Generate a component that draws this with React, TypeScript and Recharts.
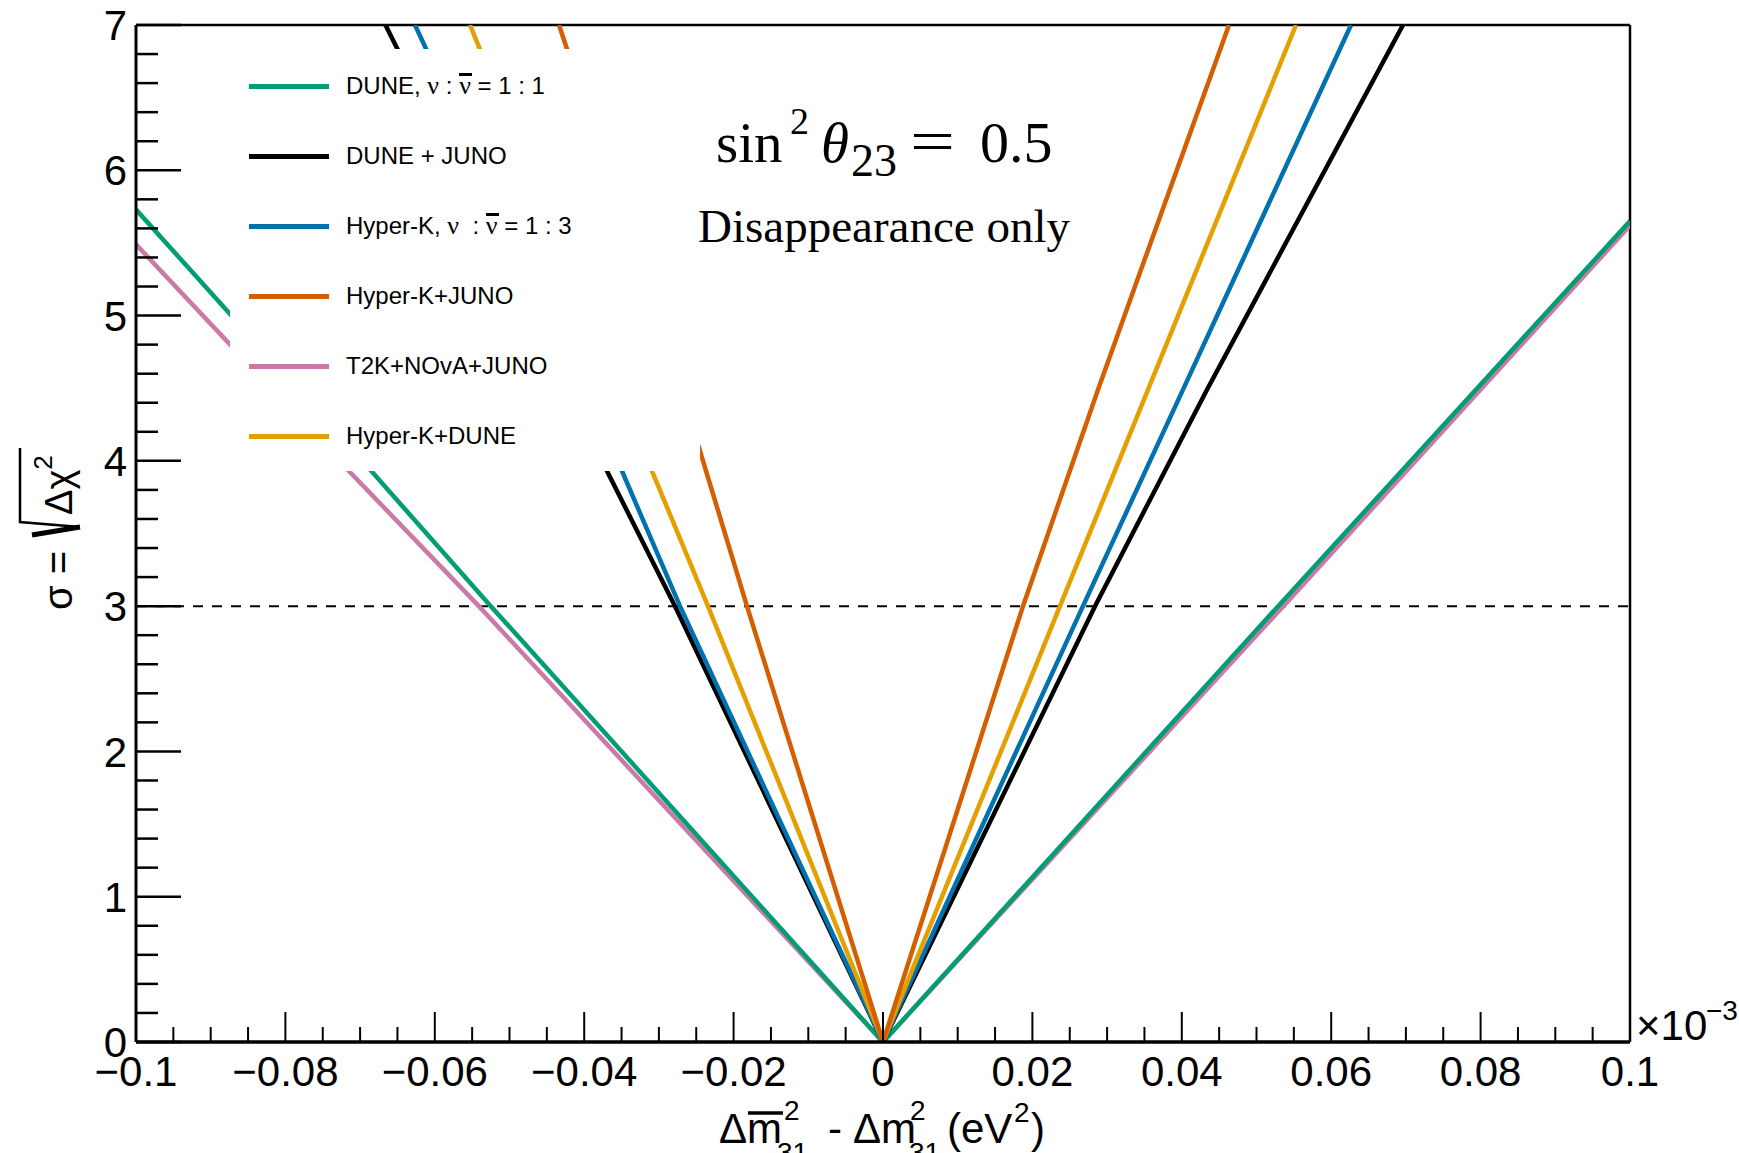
import React from 'react';
import { LineChart, Line, XAxis, YAxis, ReferenceLine } from 'recharts';

type Pt = { x: number; y: number };

// sigma = sqrt(delta chi^2) versus the mass-splitting difference (units of 1e-3 eV^2)
const duneNuNubar11: Pt[] = [
  { x: -0.1, y: 5.73 }, { x: -0.0685, y: 3.93 }, { x: -0.0525, y: 3 }, { x: 0, y: 0 },
  { x: 0.0529, y: 3 }, { x: 0.1, y: 5.65 },
];
const duneJuno: Pt[] = [
  { x: -0.0666, y: 7 }, { x: -0.03695, y: 3.93 }, { x: -0.02784, y: 3 }, { x: 0, y: 0 },
  { x: 0.02838, y: 3 }, { x: 0.04337, y: 4.49 }, { x: 0.05194, y: 5.31 }, { x: 0.06961, y: 7 },
];
const hyperKNuNubar13: Pt[] = [
  { x: -0.06265, y: 7 }, { x: -0.03494, y: 3.93 }, { x: -0.02718, y: 3 }, { x: 0, y: 0 },
  { x: 0.02677, y: 3 }, { x: 0.04016, y: 4.49 }, { x: 0.04751, y: 5.31 }, { x: 0.06265, y: 7 },
];
const hyperKJuno: Pt[] = [
  { x: -0.04337, y: 7 }, { x: -0.02463, y: 4.09 }, { x: -0.01821, y: 3 }, { x: 0, y: 0 },
  { x: 0.01874, y: 3 }, { x: 0.02878, y: 4.49 }, { x: 0.0345, y: 5.31 }, { x: 0.04632, y: 7 },
];
const t2kNovaJuno: Pt[] = [
  { x: -0.1, y: 5.49 }, { x: -0.0715, y: 3.93 }, { x: -0.0541, y: 3 }, { x: 0, y: 0 },
  { x: 0.0536, y: 3 }, { x: 0.1, y: 5.62 },
];
const hyperKDune: Pt[] = [
  { x: -0.05529, y: 7 }, { x: -0.03092, y: 3.93 }, { x: -0.02343, y: 3 }, { x: 0, y: 0 },
  { x: 0.02369, y: 3 }, { x: 0.03548, y: 4.49 }, { x: 0.04195, y: 5.31 }, { x: 0.05529, y: 7 },
];

const legendOrder = [
  { label: 'DUNE, ν : ν̄ = 1 : 1', color: '#009E73', data: duneNuNubar11 },
  { label: 'DUNE + JUNO', color: '#000000', data: duneJuno },
  { label: 'Hyper-K, ν  : ν̄ = 1 : 3', color: '#0072B2', data: hyperKNuNubar13 },
  { label: 'Hyper-K+JUNO', color: '#D55E00', data: hyperKJuno },
  { label: 'T2K+NOvA+JUNO', color: '#CC79A7', data: t2kNovaJuno },
  { label: 'Hyper-K+DUNE', color: '#E69F00', data: hyperKDune },
];

// drawing order (last on top)
const drawOrder = [4, 0, 1, 2, 5, 3];

const xMajorTicks = [-0.1, -0.08, -0.06, -0.04, -0.02, 0, 0.02, 0.04, 0.06, 0.08, 0.1];
const xMajorLabels = ['−0.1', '−0.08', '−0.06', '−0.04', '−0.02', '0', '0.02', '0.04', '0.06', '0.08', '0.1'];
const yMajorTicks = [0, 1, 2, 3, 4, 5, 6, 7];
const yMajorLabels = ['0', '1', '2', '3', '4', '5', '6', '7'];

const X_MINOR_DIV = 4;
const Y_MINOR_DIV = 5;

function withMinor(majors: number[], div: number): number[] {
  const out: number[] = [];
  for (let i = 0; i < majors.length - 1; i++) {
    const step = (majors[i + 1] - majors[i]) / div;
    for (let k = 0; k < div; k++) out.push(+(majors[i] + k * step).toFixed(6));
  }
  out.push(majors[majors.length - 1]);
  return out;
}

const xTicks = withMinor(xMajorTicks, X_MINOR_DIV);
const yTicks = withMinor(yMajorTicks, Y_MINOR_DIV);

const SANS = '"Liberation Sans", Arial, Helvetica, sans-serif';
const SERIF = '"Liberation Serif", "Times New Roman", serif';

function majorIndex(v: number, majors: number[]): number {
  return majors.findIndex((m) => Math.abs(m - v) < 1e-9);
}

const XTick = (props: any) => {
  const { x, y, payload } = props;
  const idx = majorIndex(payload.value, xMajorTicks);
  const major = idx >= 0;
  return (
    <g>
      <line x1={x} x2={x} y1={y} y2={y - (major ? 30 : 15)} stroke="#000" strokeWidth={2} />
      {major && (
        <text x={x} y={y + 44} textAnchor="middle" fontSize={42} fontFamily={SANS} fill="#000">
          {xMajorLabels[idx]}
        </text>
      )}
    </g>
  );
};

const YTick = (props: any) => {
  const { x, y, payload } = props;
  const idx = majorIndex(payload.value, yMajorTicks);
  const major = idx >= 0;
  return (
    <g>
      <line x1={x} x2={x + (major ? 45 : 22)} y1={y} y2={y} stroke="#000" strokeWidth={2.5} />
      {major && (
        <text x={x - 9} y={y} dy="0.36em" textAnchor="end" fontSize={42} fontFamily={SANS} fill="#000">
          {yMajorLabels[idx]}
        </text>
      )}
    </g>
  );
};

function renderLabel(s: string) {
  const parts = s.split(/(ν̄|ν)/);
  return parts.map((p, i) => {
    if (p === 'ν̄')
      return (
        <span key={i} style={{ fontFamily: SERIF, fontSize: 26, position: 'relative', display: 'inline-block' }}>
          ν
          <span style={{ position: 'absolute', left: 0, right: -1, top: 2, height: 3, background: '#000' }} />
        </span>
      );
    if (p === 'ν') return <span key={i} style={{ fontFamily: SERIF, fontSize: 26 }}>ν</span>;
    return <span key={i} style={{ whiteSpace: 'pre' }}>{p}</span>;
  });
}

export default function App() {
  return (
    <div
      style={{
        position: 'absolute',
        left: 0,
        top: 0,
        width: 1739,
        height: 1153,
        background: '#fff',
        overflow: 'hidden',
        fontFamily: SANS,
      }}
    >
      <LineChart width={1739} height={1153} margin={{ top: 25, right: 109, bottom: 51, left: 76 }}>
        <XAxis
          dataKey="x"
          type="number"
          domain={[-0.1, 0.1]}
          ticks={xTicks}
          interval={0}
          allowDataOverflow
          height={60}
          tickSize={0}
          tickMargin={0}
          tickLine={false}
          axisLine={{ stroke: '#000', strokeWidth: 3.5 }}
          tick={<XTick />}
        />
        <YAxis
          type="number"
          domain={[0, 7]}
          ticks={yTicks}
          interval={0}
          allowDataOverflow
          width={60}
          tickSize={0}
          tickMargin={0}
          tickLine={false}
          axisLine={{ stroke: '#000', strokeWidth: 3 }}
          tick={<YTick />}
        />
        <ReferenceLine y={7} stroke="#000" strokeWidth={2.5} />
        <ReferenceLine x={0.1} stroke="#000" strokeWidth={2.5} />
        <ReferenceLine y={3} stroke="#000" strokeWidth={2} strokeDasharray="10 9" />
        {drawOrder.map((i) => {
          const s = legendOrder[i];
          return (
            <Line
              key={s.label}
              data={s.data}
              dataKey="y"
              type="linear"
              stroke={s.color}
              strokeWidth={4.5}
              dot={false}
              activeDot={false}
              isAnimationActive={false}
            />
          );
        })}
      </LineChart>

      {/* legend box (opaque, hides the curves behind it) */}
      <div
        style={{
          position: 'absolute',
          left: 230,
          top: 49,
          width: 470,
          height: 422,
          background: '#fff',
        }}
      >
        {legendOrder.map((s, i) => (
          <div key={s.label} style={{ position: 'absolute', left: 0, top: 37 + i * 70, width: 470 }}>
            <div
              style={{
                position: 'absolute',
                left: 19,
                top: -2,
                width: 80,
                height: 4.5,
                background: s.color,
              }}
            />
            <div
              style={{
                position: 'absolute',
                left: 116,
                top: -15,
                fontSize: 24,
                lineHeight: '30px',
                whiteSpace: 'pre',
                color: '#000',
              }}
            >
              {renderLabel(s.label)}
            </div>
          </div>
        ))}
      </div>

      {/* titles and annotations */}
      <svg
        width={1739}
        height={1153}
        style={{ position: 'absolute', left: 0, top: 0, pointerEvents: 'none' }}
      >
        <text fontFamily={SERIF} fontSize={57} fill="#000">
          <tspan x={716} y={162}>sin</tspan>
          <tspan x={790} y={134} fontSize={38}>2</tspan>
          <tspan x={821} y={162} fontStyle="italic">θ</tspan>
          <tspan x={851} y={176} fontSize={46}>23</tspan>
        </text>
        <text x={910} y={162} fontFamily={SERIF} fontSize={62} fill="#000" textLength={45} lengthAdjust="spacingAndGlyphs">
          =
        </text>
        <text x={980} y={162} fontFamily={SERIF} fontSize={58} fill="#000">
          0.5
        </text>
        <text x={884} y={242} textAnchor="middle" fontFamily={SERIF} fontSize={47} fill="#000">
          Disappearance only
        </text>

        {/* x-axis title */}
        <text fontFamily={SANS} fontSize={42} fill="#000">
          <tspan x={719} y={1143}>Δm</tspan>
          <tspan x={784} y={1120} fontSize={28}>2</tspan>
          <tspan x={777} y={1162} fontSize={28}>31</tspan>
          <tspan x={828} y={1143}>-</tspan>
          <tspan x={853} y={1143}>Δm</tspan>
          <tspan x={910} y={1120} fontSize={28}>2</tspan>
          <tspan x={909} y={1162} fontSize={28}>31</tspan>
          <tspan x={947} y={1143}>(eV</tspan>
          <tspan x={1014} y={1122} fontSize={28}>2</tspan>
          <tspan x={1031} y={1143}>)</tspan>
        </text>
        <line x1={748} x2={783} y1={1113} y2={1113} stroke="#000" strokeWidth={3.5} />

        {/* exponent of the x axis */}
        <text fontFamily={SANS} fontSize={42} fill="#000">
          <tspan x={1636} y={1040}>×10</tspan>
          <tspan x={1706} y={1020} fontSize={28}>−3</tspan>
        </text>

        {/* y-axis title */}
        <g transform="translate(72,610) rotate(-90)">
          <text x={0} y={0} fontFamily={SANS} fontSize={40} fill="#000">σ =</text>
          <path d="M 75 -40 L 83 8" stroke="#000" strokeWidth={5} fill="none" />
          <path d="M 83 8 L 88 -52 L 162 -52" stroke="#000" strokeWidth={2.5} fill="none" />
          <text x={95} y={0} fontFamily={SANS} fontSize={38} fill="#000">
            Δχ
            <tspan dy={-20} fontSize={26}>2</tspan>
          </text>
        </g>
      </svg>
    </div>
  );
}
